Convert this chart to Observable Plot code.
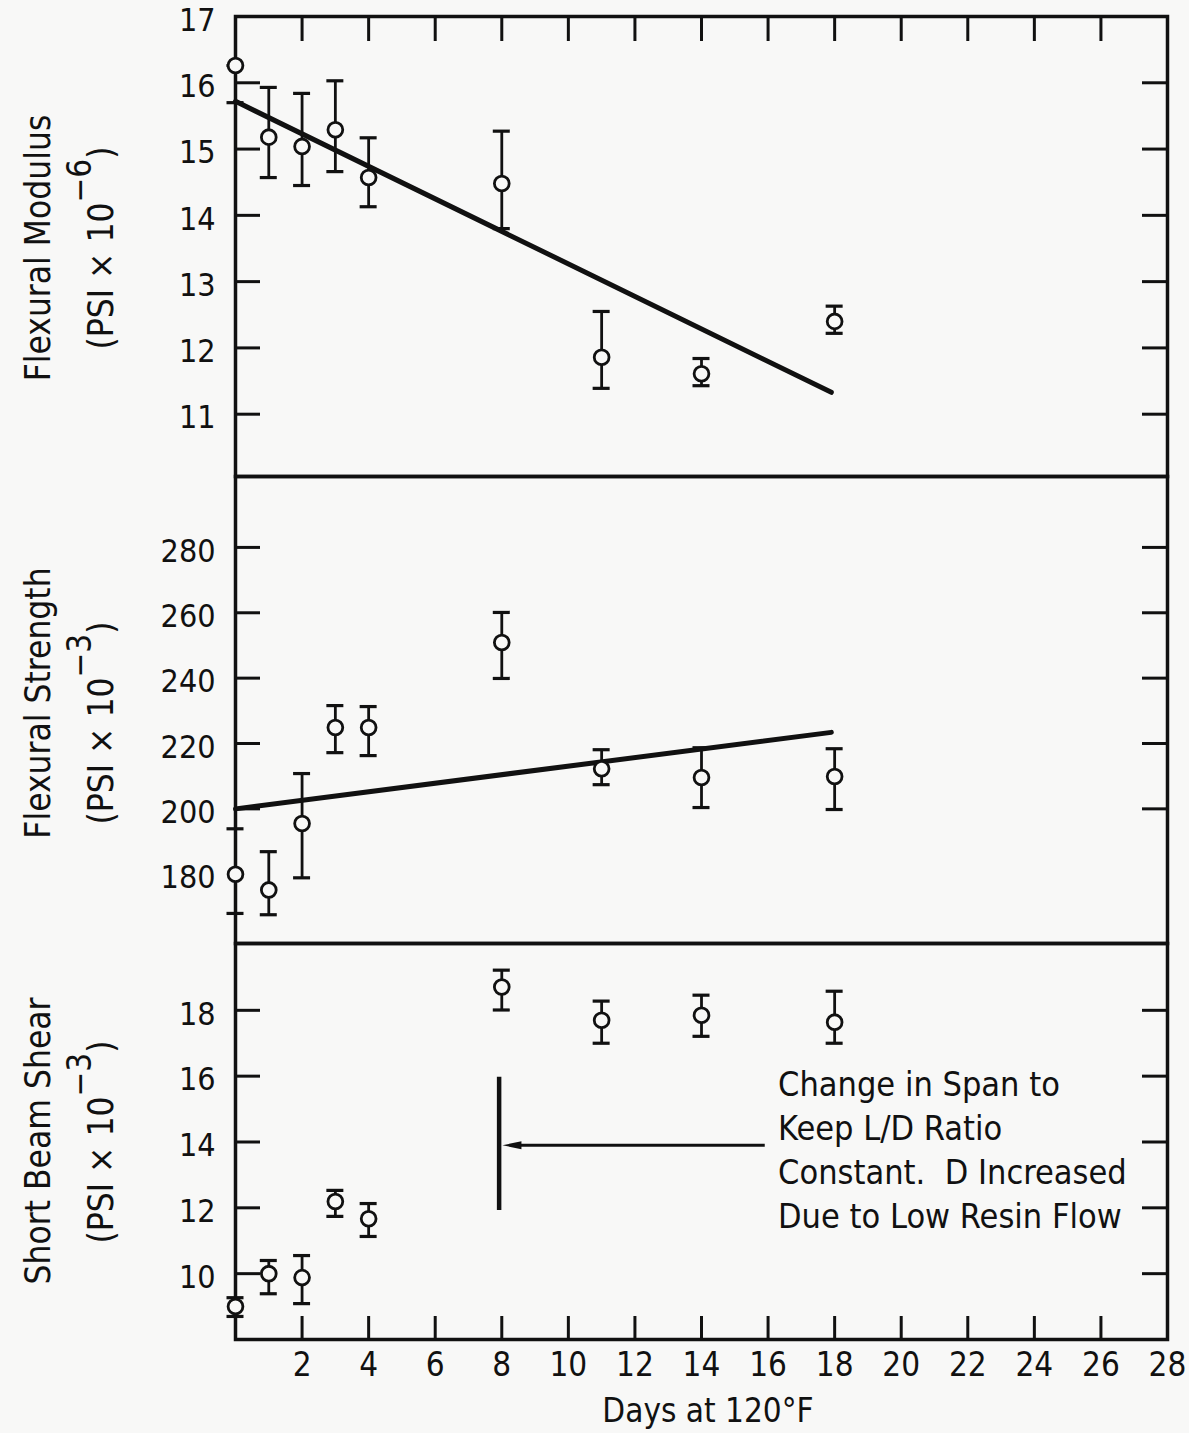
<!DOCTYPE html>
<html>
<head>
<meta charset="utf-8">
<script src="https://cdn.jsdelivr.net/npm/d3@7"></script>
<script src="https://cdn.jsdelivr.net/npm/@observablehq/plot@0.6"></script>
<style>
  body { margin: 0; background: #f8f8f7; }
  #chart { position: relative; width: 1189px; height: 1433px; }
  #chart svg { position: absolute; left: 0; overflow: visible; background: transparent; }
</style>
</head>
<body>
<div id="chart"></div>
<script>
// ---------- data ----------
const days = [0, 1, 2, 3, 4, 8, 11, 14, 18];

const modulus   = [16.26, 15.18, 15.04, 15.29, 14.57, 14.48, 11.86, 11.61, 12.40];
const modulusLo = [15.70, 14.57, 14.45, 14.66, 14.13, 13.80, 11.39, 11.43, 12.22];
const modulusHi = [16.26, 15.93, 15.84, 16.03, 15.17, 15.27, 12.55, 11.84, 12.63];

const strength   = [180.0, 175.2, 195.5, 224.9, 224.9, 250.9, 212.3, 209.6, 209.9];
const strengthLo = [168.0, 167.6, 178.9, 217.2, 216.3, 239.9, 207.4, 200.4, 199.8];
const strengthHi = [193.9, 186.9, 210.8, 231.6, 231.3, 260.1, 218.1, 218.7, 218.4];

const shear   = [9.00, 10.00, 9.88, 12.19, 11.67, 18.71, 17.70, 17.85, 17.64];
const shearLo = [8.70, 9.39, 9.09, 11.74, 11.13, 18.01, 17.00, 17.21, 17.00];
const shearHi = [9.27, 10.40, 10.55, 12.53, 12.13, 19.22, 18.28, 18.46, 18.58];

const fitDays = [0, 17.9];
const modulusFit = [15.72, 11.33];
const strengthFit = [200.0, 223.4];

const xDomain = [0, 28];
const xTickMarks = [2, 4, 6, 8, 10, 12, 14, 16, 18, 20, 22, 24, 26];
const xTickLabels = [2, 4, 6, 8, 10, 12, 14, 16, 18, 20, 22, 24, 26, 28];

const modulusDomain = [10.06, 17];
const modulusTicks = [11, 12, 13, 14, 15, 16];
const modulusLabels = [11, 12, 13, 14, 15, 16, 17];

const strengthDomain = [158.8, 301.7];
const strengthTicks = [200, 220, 240, 260, 280];
const strengthLabels = [180, 200, 220, 240, 260, 280];

const shearDomain = [8, 20.03];
const shearTicks = [10, 12, 14, 16, 18];
const shearLabels = [10, 12, 14, 16, 18];

const titles = {
  modulus: ["Flexural Modulus", "6"],
  strength: ["Flexural Strength", "3"],
  shear: ["Short Beam Shear", "3"]
};
const xTitle = "Days at 120°F";

// annotation in the shear panel
const spanChangeDay = 7.92;
const spanChangeRange = [11.92, 15.97];
const arrowStartDay = 15.9;
const arrowTipDay = 8.02;
const arrowLevel = 13.9;
const noteDay = 16.3;
const noteLevel = 13.82;
const noteLines = ["Change in Span to", "Keep L/D Ratio", "Constant.  D Increased", "Due to Low Resin Flow"];

// ---------- drawing ----------
const BG = "#f8f8f7", INK = "#111111";
const W = 1189, ML = 235, MR = 22;
const plotW = W - ML - MR;
const numFont = "'Liberation Sans Narrow', 'DejaVu Sans Condensed', sans-serif";
const textFont = "'DejaVu Sans Condensed', 'DejaVu Sans', sans-serif";

const rowsOf = (v, lo, hi) => days.map((d, i) => ({day: d, v: v[i], lo: lo[i], hi: hi[i]}));
const fitOf = (f) => fitDays.map((d, i) => ({day: d, v: f[i]}));

function panel(o) {
  const plotH = o.height - o.marginTop - o.marginBottom;
  const marks = [
    Plot.frame({stroke: INK, strokeWidth: 3.5}),
    Plot.tickY(o.leftTicks, {y: d => d, insetRight: plotW - 25, stroke: INK, strokeWidth: 3}),
    Plot.tickY(o.rightTicks, {y: d => d, insetLeft: plotW - 25, stroke: INK, strokeWidth: 3}),
    Plot.axisY({ticks: o.labels, tickSize: 0, tickPadding: 20, label: null, dy: 4,
                fontSize: 32, fontFamily: numFont, tickFormat: d => String(d)})
  ];
  if (o.topTicks) marks.push(Plot.tickX(xTickMarks, {x: d => d, insetBottom: plotH - 25, stroke: INK, strokeWidth: 3}));
  if (o.bottomTicks) {
    marks.push(Plot.tickX(xTickMarks, {x: d => d, insetTop: plotH - 23, stroke: INK, strokeWidth: 3}));
    marks.push(Plot.axisX({ticks: xTickLabels, tickSize: 0, tickPadding: 13, label: null,
                           fontSize: 33, fontFamily: numFont, tickFormat: d => String(d)}));
  }
  if (o.extra) marks.push(...o.extra);
  const rows = o.rows;
  marks.push(
    Plot.ruleX(rows, {x: "day", y1: "lo", y2: "hi", stroke: INK, strokeWidth: 2.8}),
    Plot.ruleY(rows, {y: "hi", x1: "day", x2: "day", insetLeft: -8.5, insetRight: -8.5, stroke: INK, strokeWidth: 3.2}),
    Plot.ruleY(rows, {y: "lo", x1: "day", x2: "day", insetLeft: -8.5, insetRight: -8.5, stroke: INK, strokeWidth: 3.2})
  );
  if (o.fit) marks.push(Plot.line(o.fit, {x: "day", y: "v", stroke: INK, strokeWidth: 5, strokeLinecap: "round"}));
  marks.push(Plot.dot(rows, {x: "day", y: "v", r: 7.4, stroke: INK, strokeWidth: 2.8, fill: BG}));

  const svg = Plot.plot({
    width: W, height: o.height,
    marginLeft: ML, marginRight: MR, marginTop: o.marginTop, marginBottom: o.marginBottom,
    x: {domain: xDomain, axis: o.bottomTicks ? undefined : null},
    y: {domain: o.domain},
    style: {background: "transparent", overflow: "visible", color: INK},
    marks
  });
  svg.style.top = o.top + "px";
  document.getElementById("chart").appendChild(svg);
  return svg;
}

function yTitle(svg, cy1, cy2, [line1, sup]) {
  const s = d3.select(svg);
  s.append("text")
    .attr("transform", `translate(50,${cy1}) rotate(-90)`)
    .attr("text-anchor", "middle").attr("font-family", textFont).attr("font-size", 35).attr("fill", INK)
    .text(line1);
  const t = s.append("text")
    .attr("transform", `translate(113,${cy2}) rotate(-90)`)
    .attr("text-anchor", "middle").attr("font-family", textFont).attr("font-size", 35).attr("fill", INK);
  t.append("tspan").text("(PSI × 10");
  t.append("tspan").attr("dy", -22).attr("font-size", 33).text("−" + sup);
  t.append("tspan").attr("dy", 22).text(")");
}

const p1 = panel({
  top: 0, height: 476, marginTop: 16, marginBottom: 0,
  domain: modulusDomain, leftTicks: modulusTicks, rightTicks: modulusTicks, labels: modulusLabels,
  rows: rowsOf(modulus, modulusLo, modulusHi), fit: fitOf(modulusFit), topTicks: true
});
yTitle(p1, 248, 248, titles.modulus);

const p2 = panel({
  top: 476, height: 467, marginTop: 0, marginBottom: 0,
  domain: strengthDomain, leftTicks: strengthTicks, rightTicks: strengthTicks, labels: strengthLabels,
  rows: rowsOf(strength, strengthLo, strengthHi), fit: fitOf(strengthFit)
});
yTitle(p2, 227, 247, titles.strength);

const arrowHead = {
  draw(ctx) { ctx.moveTo(-10, 0); ctx.lineTo(9, -4); ctx.lineTo(9, 4); ctx.closePath(); }
};
const p3 = panel({
  top: 943, height: 490, marginTop: 0, marginBottom: 94,
  domain: shearDomain, leftTicks: shearTicks, rightTicks: shearTicks, labels: shearLabels,
  rows: rowsOf(shear, shearLo, shearHi), bottomTicks: true,
  extra: [
    Plot.ruleX([spanChangeDay], {x: d => d, y1: spanChangeRange[0], y2: spanChangeRange[1], stroke: INK, strokeWidth: 4.5}),
    Plot.link([arrowLevel], {x1: arrowStartDay, x2: arrowTipDay + 0.4, y1: d => d, y2: d => d, stroke: INK, strokeWidth: 3}),
    Plot.dot([arrowLevel], {x: arrowTipDay, y: d => d, dx: 10, symbol: arrowHead, fill: INK, stroke: "none"}),
    Plot.text([noteLines.join("\n")], {x: noteDay, y: noteLevel, text: d => d, textAnchor: "start", lineAnchor: "middle",
      lineHeight: 1.3, fontSize: 34, fontFamily: textFont, fill: INK})
  ]
});
yTitle(p3, 198, 199, titles.shear);

d3.select(p3).append("text")
  .attr("x", 708).attr("y", 479)
  .attr("text-anchor", "middle").attr("font-family", textFont).attr("font-size", 33).attr("fill", INK)
  .text(xTitle);
</script>
</body>
</html>
